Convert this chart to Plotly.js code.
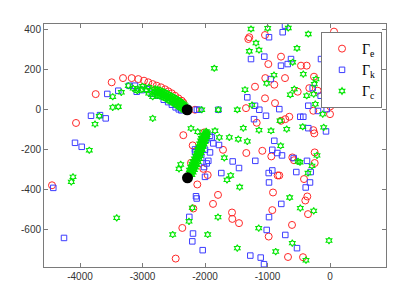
<!DOCTYPE html>
<html>
<head>
<meta charset="utf-8">
<script src="https://cdn.plot.ly/plotly-3.0.1.min.js"></script>
<style>html,body{margin:0;padding:0;background:#fff;}#chart{width:416px;height:297px;}</style>
</head>
<body>
<div id="chart"></div>
<script>
// Γe (red circles)
const eX = [-4064,-3749,-3493,-3312,-3173,-3067,-2976,-2907,-2837,-2773,-2704,-2640,-2587,-2533,-2480,-2427,-2373,-2347,
  -4448,-1291,-1307,-1040,-987,-1035,-891,-1200,-1040,-880,-1344,-2160,-1173,-2011,-2347,-2197,
  -784,-464,-373,-720,-331,-517,-197,-267,5,0,-651,-715,-784,-267,-251,64,420,-256,
  -1712,-1339,-1083,-939,-603,-576,-245,-245,-837,-811,-416,-1792,-1872,-912,-363,-395,-352,-923,-1568,-1563,-1456,-981,-608,-672,-432,
  -2224,-2123,-1957,-2187,-2363,-2469,-2027];
const eY = [-66,78,137,158,158,153,145,137,128,120,112,102,92,82,70,57,45,35,
  -377,362,353,373,228,158,125,115,57,33,8,0,-65,-113,-127,-178,
  265,220,220,158,108,90,95,-5,17,-22,-35,-47,-55,-102,-118,390,45,165,
  -200,-216,-205,-233,-238,-252,-213,-266,-328,-328,-346,-425,-470,-413,-433,-453,-521,-501,-513,-545,-566,-633,-575,-735,-736,
  -265,-373,-326,-493,-590,-743,-295];

// Γk (blue squares)
const kX = [-3563,-3387,-3211,-3120,-3093,-3013,-2933,-3824,-3680,-3589,-4080,-3973,-4427,-4256,
  -2850,-2750,-2660,-2590,-2530,-2470,-2420,-2380,
  -976,-1264,-1051,-949,-1323,-1200,-1131,-1787,-2091,-2130,-1024,-1216,-891,-1920,
  -720,-757,-624,-784,-677,-144,-811,-347,-277,-53,-475,-427,-192,-347,-64,-150,
  -923,-843,-768,-581,-368,-1557,-1195,-1456,-1739,-981,-923,-539,-309,-320,-976,-389,-779,-976,-1013,-715,-528,-1275,-1109,-1056,
  -2144,-2133,-2251,-2192,-2203,-2037,
  -2160,-2160,-2000,-2016,-1947,-1893,-1867,-1920,-1973,-1776,-2040,-2000,-2060,-1980];
const kY = [79,95,120,120,90,98,102,-30,-27,-43,-165,-185,-390,-640,
  80,70,50,38,25,12,2,-3,
  362,253,265,153,62,20,0,0,0,0,-30,-47,-155,-130,
  420,387,253,220,228,253,3,20,108,3,-35,-35,-6,-92,-108,70,
  -200,-216,-228,-241,-255,-258,-255,-291,-316,-316,-303,-311,-311,-363,-363,-388,-470,-536,-600,-625,-691,-728,-738,-771,
  -432,-443,-535,-618,-657,-701,
  -198,-212,-335,-286,-255,-138,-168,-213,-268,-176,-180,-200,-240,-150];

// Γc (green hexagrams)
const cX = [-3477,-3339,-3227,-3083,-3477,-3387,-3691,-3760,-2837,-2837,-3851,-4112,-4139,-3413,
  -3150,-3080,-3010,-2940,-2870,-2800,-2740,-2680,-2620,-2560,-2510,-2460,-2420,-2380,-2350,-2320,-2300,
  -3000,-2900,-2800,-2720,-2650,-2590,-2530,-2480,-2430,-2390,-2350,-2320,
  -2900,-2800,-2720,-2650,-2590,-2530,-2480,-2430,-2390,-2350,-2320,
  -2770,-2710,-2650,-2590,-2535,-2485,-2440,-2400,-2365,-2335,-2310,
  -2760,-2685,-2620,-2560,-2505,-2455,-2410,-2370,-2335,
  -2760,-2685,-2620,-2560,-2505,-2455,-2410,-2370,-2335,
  -1264,-997,-1184,-1291,-1136,-1851,-896,-1013,-1360,-1248,-1483,-1787,-2053,-1136,-944,-1387,-1323,-1467,-1611,-1771,-1840,-2224,-2117,
  -667,-347,-528,-597,-427,-224,-251,-571,-635,-373,-261,-235,-117,-800,-693,-437,-101,-790,
  -512,-480,-208,-288,-1589,-1648,-352,-1445,-645,-475,-261,-1792,-1141,-16,-603,-1483,-869,-384,-1691,
  -2389,-2416,-2203,-2256,-2517,-1957,
  -2270,-2250,-2230,-2210,-2190,-2170,-2150,-2130,-2110,-2090,-2070,-2055,-2040,-2025,-2010,-1995,-1980,
  -2210,-2170,-2130,-2090,-2060,-2030,-2000,-1975,-1960,
  -2250,-2210,-2170,-2130,-2100,-2070,-2045,
  -2260,-2240,-2220,-2200,-2180,-2160,-2140,-2120,-2100,-2080,-2062,-2047,-2032,-2017,-2002,-1988,
  -2190,-2150,-2110,-2075,-2045,-2015,-1988,-1968,
  -2230,-2190,-2150,-2115,-2085,-2058];
const cY = [65,87,120,95,12,15,-32,-72,65,-43,-202,-335,-360,-540,
  107,105,102,98,94,90,84,77,68,58,50,41,33,25,17,10,4,
  117,112,105,98,88,78,67,57,48,38,30,20,
  82,76,68,60,48,38,28,18,10,2,-5,
  87,80,73,63,54,45,37,29,21,13,7,
  102,93,83,72,62,52,43,34,25,
  72,64,54,43,33,23,14,6,-2,
  403,407,333,292,298,207,173,132,100,23,0,0,0,-102,-105,-92,-158,-147,-138,-138,-105,-93,-110,
  408,378,307,237,178,153,128,103,75,70,78,28,-22,-55,-97,-85,-88,-180,
  -258,-262,-228,-280,-328,-350,-316,-386,-438,-491,-505,-536,-591,-653,-666,-691,-708,-751,-240,
  -273,-295,-490,-557,-623,-623,
  -340,-325,-312,-298,-285,-270,-255,-240,-225,-210,-195,-180,-165,-150,-135,-120,-108,
  -325,-300,-275,-245,-215,-185,-160,-135,-115,
  -300,-270,-245,-215,-185,-155,-130,
  -332,-318,-305,-291,-277,-262,-247,-232,-217,-202,-187,-172,-157,-142,-127,-114,
  -312,-287,-260,-230,-200,-172,-147,-125,
  -285,-258,-230,-200,-170,-142];

// black end points
const dotX = [-2285,-2280];
const dotY = [0,-340];

const seriesNames = ['Γ<sub>e</sub>','Γ<sub>k</sub>','Γ<sub>c</sub>'];
const xTickVals = [-4000,-3000,-2000,-1000,0];
const xTickText = ['-4000','-3000','-2000','-1000','0'];
const yTickVals = [-600,-400,-200,0,200,400];
const yTickText = ['-600','-400','-200','0','200','400'];

const traces = [
  {x:eX, y:eY, type:'scatter', mode:'markers', name:seriesNames[0],
   marker:{symbol:'circle-open', size:7, color:'rgb(255,40,40)', line:{width:1, color:'rgb(255,40,40)'}}},
  {x:kX, y:kY, type:'scatter', mode:'markers', name:seriesNames[1],
   marker:{symbol:'square-open', size:5.5, color:'rgb(60,60,255)', line:{width:1, color:'rgb(60,60,255)'}}},
  {x:cX, y:cY, type:'scatter', mode:'markers', name:seriesNames[2],
   marker:{symbol:'hexagram-open', size:5, color:'rgb(0,230,0)', line:{width:1.1, color:'rgb(0,230,0)'}}},
  {x:dotX, y:dotY, type:'scatter', mode:'markers', showlegend:false,
   marker:{symbol:'circle', size:11, color:'black'}}
];

const axisCommon = {
  showgrid:false, zeroline:false, showline:true, linecolor:'#7a7a7a', linewidth:1,
  mirror:'ticks', ticks:'inside', ticklen:4, tickcolor:'#7a7a7a',
  tickfont:{family:'Liberation Sans, Arial, sans-serif', size:10, color:'#333'}
};

const layout = {
  width:416, height:297,
  margin:{l:44, r:30, t:24, b:30},
  paper_bgcolor:'#fff', plot_bgcolor:'#fff',
  xaxis:Object.assign({}, axisCommon, {range:[-4576,896], tickmode:'array', tickvals:xTickVals, ticktext:xTickText}),
  yaxis:Object.assign({}, axisCommon, {range:[-785,428], tickmode:'array', tickvals:yTickVals, ticktext:yTickText}),
  showlegend:true,
  legend:{x:0.81, y:0.967, xanchor:'left', yanchor:'top', bgcolor:'#fff', bordercolor:'#777', borderwidth:1,
    font:{family:'Liberation Serif, DejaVu Serif, serif', size:14, color:'#000'}, tracegroupgap:0, itemwidth:30}
};

Plotly.newPlot('chart', traces, layout, {staticPlot:true, displayModeBar:false});
</script>
</body>
</html>
